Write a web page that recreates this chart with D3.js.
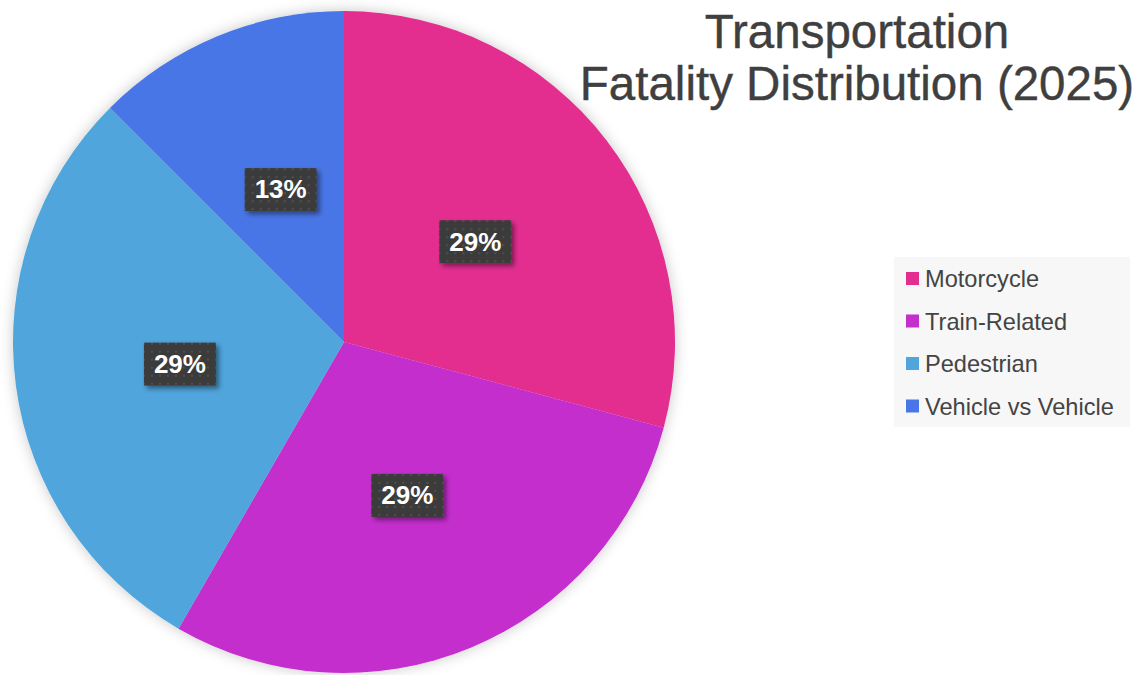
<!DOCTYPE html>
<html>
<head>
<meta charset="utf-8">
<script src="https://cdn.jsdelivr.net/npm/d3@7"></script>
<style>
  html, body { margin: 0; padding: 0; background: #ffffff; }
  svg { display: block; font-family: "Liberation Sans", Arial, Helvetica, sans-serif; }
</style>
</head>
<body>
<svg id="chart" width="1136" height="675"></svg>
<script>
const categories = ["Motorcycle", "Train-Related", "Pedestrian", "Vehicle vs Vehicle"];
const values = [7, 7, 7, 3];
const colors = ["#e32e90", "#c42ecd", "#4fa5dc", "#4876e6"];
const titleLines = ["Transportation", "Fatality Distribution (2025)"];

const svg = d3.select("#chart");
const W = 1136, H = 675;
const cx = 344, cy = 342, R = 331;

const defs = svg.append("defs");
const shadow = defs.append("filter").attr("id", "pieShadow")
  .attr("x", "-20%").attr("y", "-20%").attr("width", "140%").attr("height", "140%");
shadow.append("feDropShadow").attr("dx", 0).attr("dy", 0)
  .attr("stdDeviation", 7).attr("flood-color", "#000").attr("flood-opacity", 0.22);

const lblShadow = defs.append("filter").attr("id", "lblShadow")
  .attr("x", "-30%").attr("y", "-30%").attr("width", "160%").attr("height", "160%");
lblShadow.append("feDropShadow").attr("dx", 3).attr("dy", 3)
  .attr("stdDeviation", 2.5).attr("flood-color", "#000").attr("flood-opacity", 0.45);

const pat = defs.append("pattern").attr("id", "dots")
  .attr("patternUnits", "userSpaceOnUse").attr("width", 8).attr("height", 8);
pat.append("rect").attr("width", 8).attr("height", 8).attr("fill", "#3b3b3b");
pat.append("rect").attr("x", 3).attr("y", 3).attr("width", 2).attr("height", 2).attr("fill", "#4f4f4f");

const color = d3.scaleOrdinal().domain(categories).range(colors);
const pie = d3.pie().sort(null).value(d => d.value);
const data = categories.map((c, i) => ({ name: c, value: values[i] }));
const arcs = pie(data);
const total = d3.sum(values);
const arc = d3.arc().innerRadius(0).outerRadius(R);
const labelArc = d3.arc().innerRadius(R * 0.5).outerRadius(R * 0.5);

const g = svg.append("g").attr("transform", `translate(${cx},${cy})`);
g.append("g").attr("filter", "url(#pieShadow)")
  .selectAll("path").data(arcs).join("path")
  .attr("d", arc)
  .attr("fill", d => color(d.data.name));

const fmt = d3.format(".0%");
const lbl = g.selectAll("g.lbl").data(arcs).join("g").attr("class", "lbl")
  .attr("transform", d => `translate(${labelArc.centroid(d)})`);
lbl.append("rect")
  .attr("x", -36).attr("y", -21).attr("width", 72).attr("height", 43)
  .attr("fill", "url(#dots)")
  .attr("filter", "url(#lblShadow)");
lbl.append("text")
  .attr("text-anchor", "middle").attr("dy", "0.36em")
  .attr("fill", "#ffffff").attr("font-size", 26).attr("font-weight", "bold")
  .text(d => fmt(d.data.value / total));

// Title
const title = svg.append("text").attr("text-anchor", "middle")
  .attr("fill", "#3f3f3f").attr("font-size", 47.5)
  .attr("stroke", "#3f3f3f").attr("stroke-width", 0.4);
title.selectAll("tspan").data(titleLines).join("tspan")
  .attr("x", 857).attr("y", (d, i) => 48 + i * 52)
  .text(d => d);

// Legend
const lg = svg.append("g");
lg.append("rect").attr("x", 894).attr("y", 257).attr("width", 236).attr("height", 170)
  .attr("fill", "#f7f7f7");
const rowY = d3.scalePoint().domain(categories).range([278.5, 406]);
const items = lg.selectAll("g.item").data(categories).join("g").attr("class", "item")
  .attr("transform", d => `translate(906,${rowY(d)})`);
items.append("rect").attr("x", 0).attr("y", -6.5).attr("width", 13).attr("height", 13)
  .attr("fill", d => color(d));
items.append("text").attr("x", 19).attr("dy", "0.36em")
  .attr("fill", "#444444").attr("font-size", 23.6)
  .text(d => d);
</script>
</body>
</html>
